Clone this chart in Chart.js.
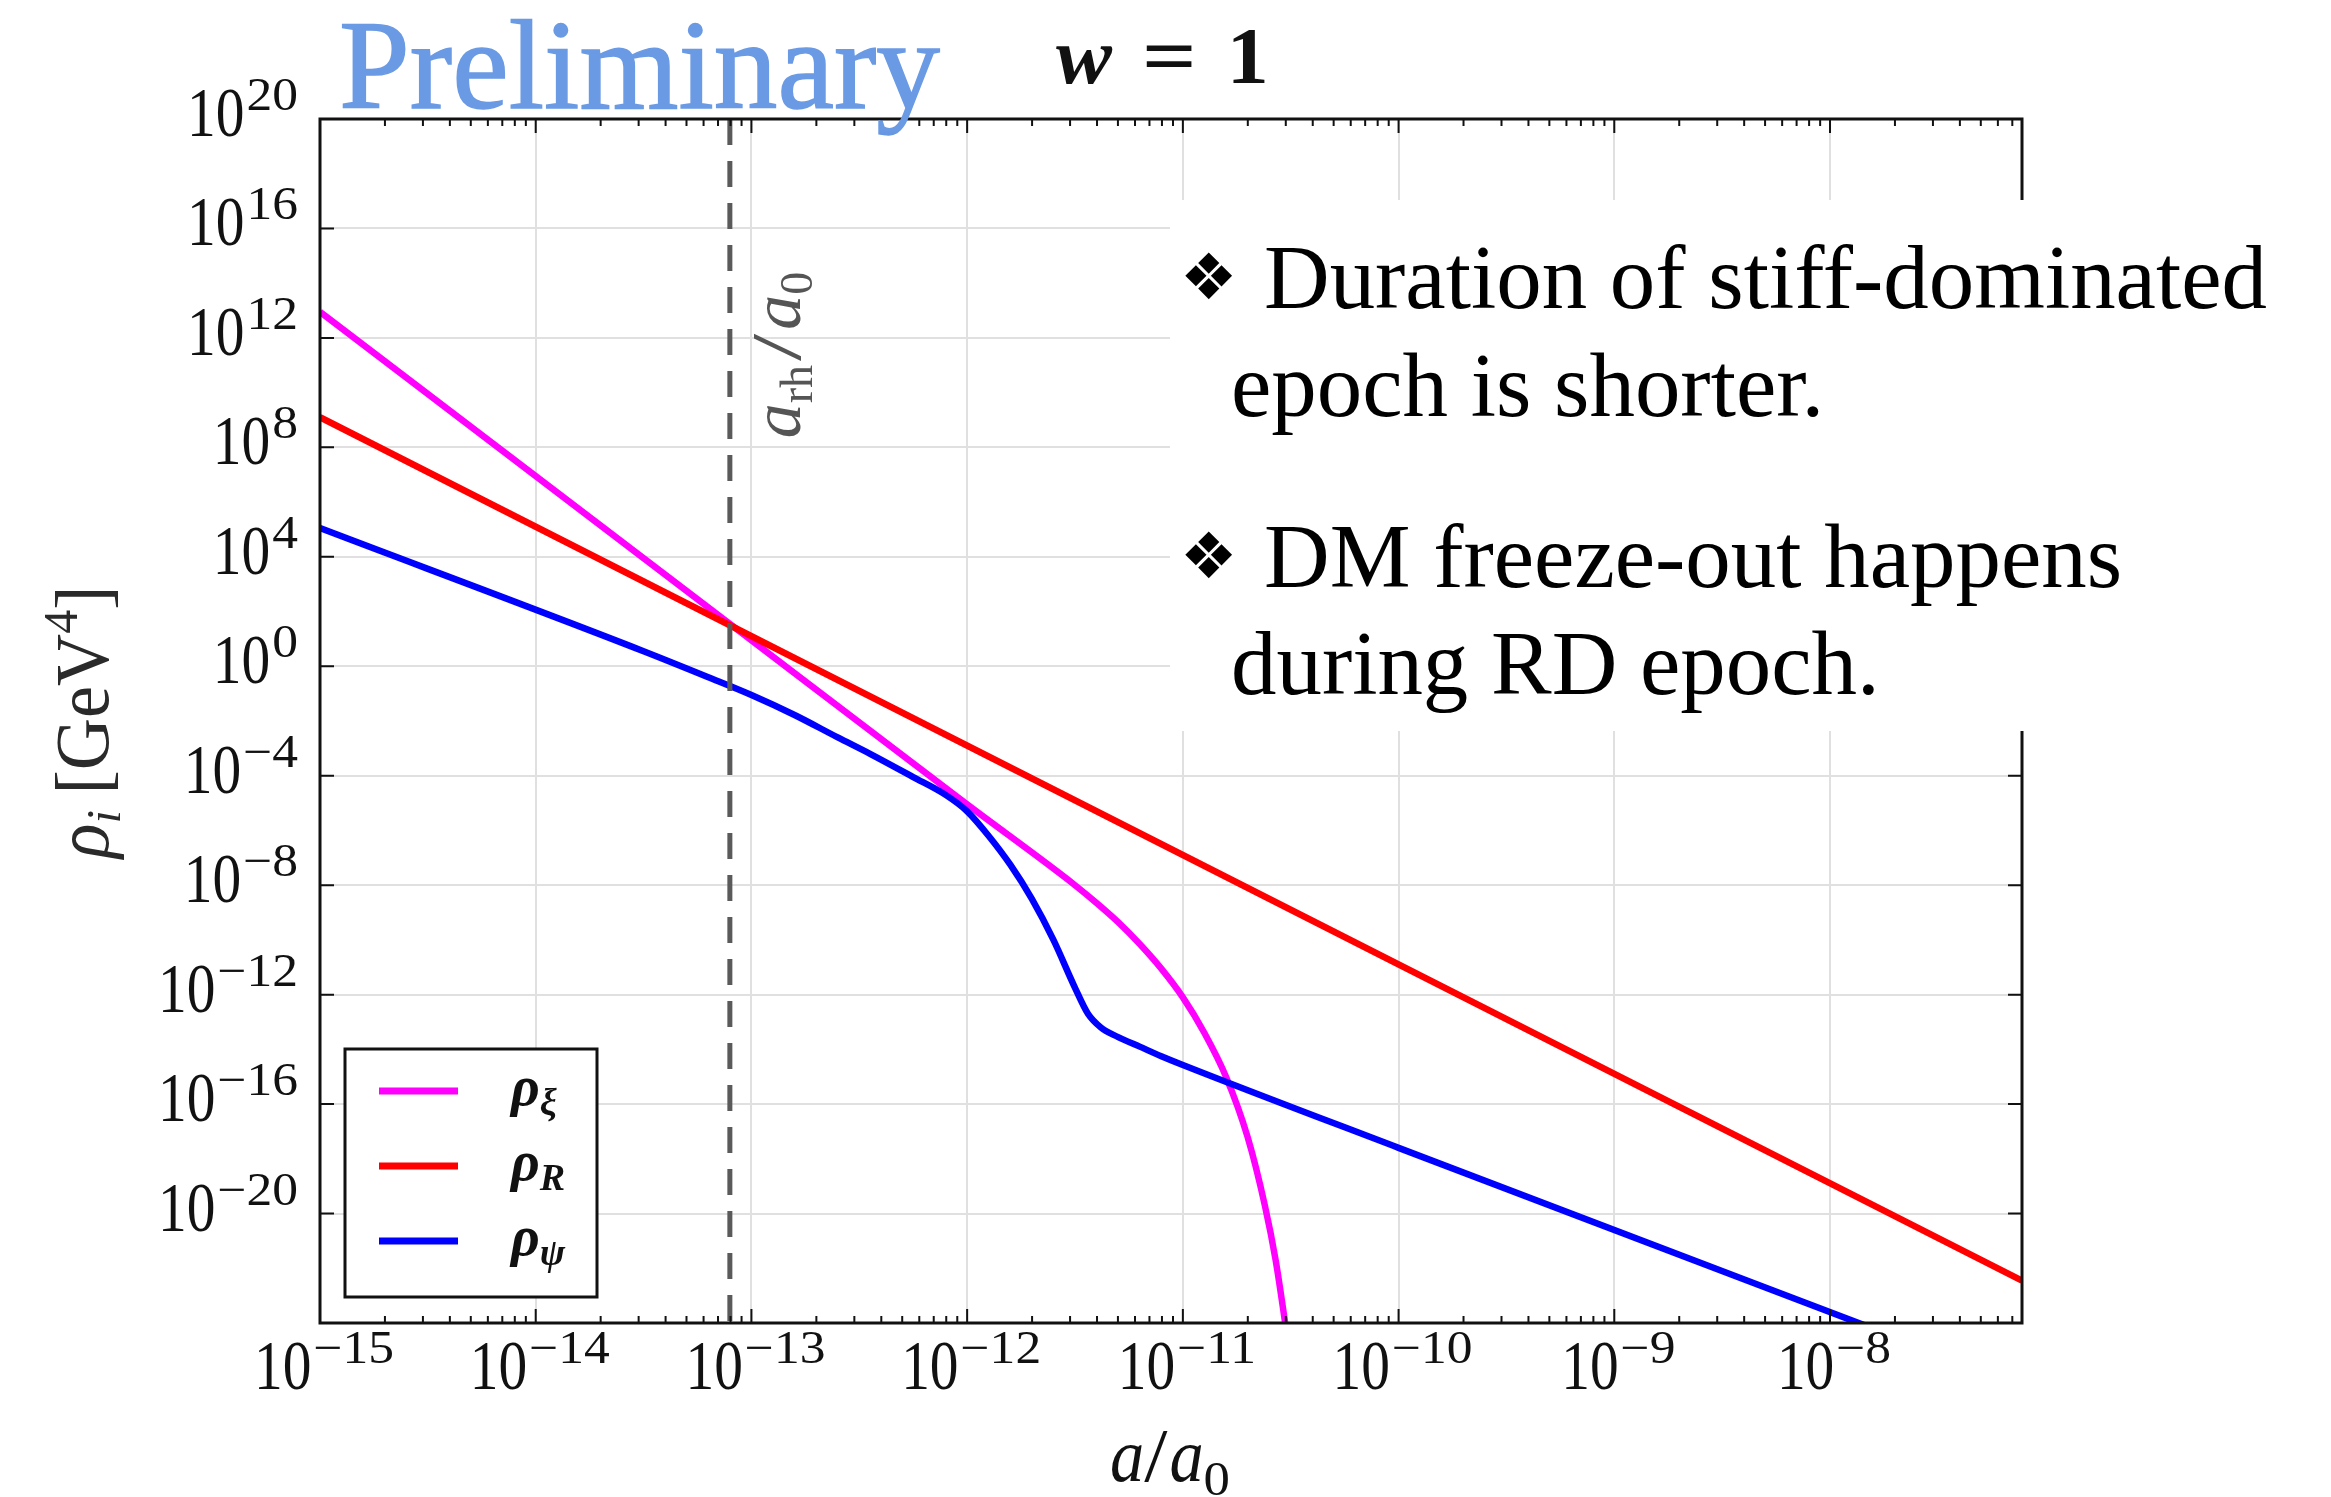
<!DOCTYPE html>
<html>
<head>
<meta charset="utf-8">
<script src="https://cdn.jsdelivr.net/npm/chart.js@4.4.1/dist/chart.umd.min.js"></script>
<style>
    html, body { margin: 0; padding: 0; background: #fff; }
    #wrap { width: 2331px; height: 1497px; }
</style>
</head>
<body>
<div id="wrap"><canvas id="chartRho" width="2331" height="1497"></canvas></div>
<script>
// axis ranges and tick positions, as log10 exponents
const xMinExp = -15, xMaxExp = -7.11;
const yMinExp = -24, yMaxExp = 20;
const xTickExp = [-15, -14, -13, -12, -11, -10, -9, -8];
const yTickExp = [20, 16, 12, 8, 4, 0, -4, -8, -12, -16, -20, -24];
const yLabelExp = [20, 16, 12, 8, 4, 0, -4, -8, -12, -16, -20];

// rho_xi (stiff fluid): log10(a/a0), log10(rho)
const xiLogA   = [-15, -13.1, -12, -11.5, -11.4, -11.3, -11.2, -11.1, -11.0, -10.9, -10.8, -10.7, -10.62, -10.57, -10.52];
const xiLogRho = [12.95, 1.55, -5.05, -8.0, -8.65, -9.35, -10.15, -11.05, -12.1, -13.4, -15.0, -17.2, -19.7, -21.7, -24.3];

// rho_R (radiation)
const radLogA   = [-15, -13.1, -7.11];
const radLogRho = [9.1, 1.5, -22.45];

// rho_psi (dark matter)
const psiLogA   = [-15, -13.5, -13.2, -13.0, -12.8, -12.6, -12.45, -12.25, -12.1, -12.0, -11.9, -11.8, -11.7, -11.6, -11.5, -11.44, -11.38, -11.3, -11.2, -11.1, -11.0, -10.0, -7.5];
const psiLogRho = [5.05, 0.55, -0.4, -1.05, -1.78, -2.6, -3.2, -4.05, -4.7, -5.3, -6.2, -7.25, -8.5, -10.0, -11.75, -12.7, -13.2, -13.55, -13.9, -14.25, -14.57, -17.6, -25.1];

// reheating scale factor
const aRhLog = -13.1;

const seriesSub = ['ξ', 'R', 'ψ'];
const seriesColors = ['#ff00ff', '#ff0000', '#0000ff'];

const notes = [
    { bullet: true, text: 'Duration of stiff-dominated' },
    { bullet: false, text: 'epoch is shorter.' },
    { bullet: true, text: 'DM freeze-out happens' },
    { bullet: false, text: 'during RD epoch.' }
];

const pts = (xs, ys) => xs.map((e, i) => ({ x: Math.pow(10, e), y: Math.pow(10, ys[i]) }));

const SERIF = '"Liberation Serif", "DejaVu Serif", serif';

function drawScaled(c, str, x, y, font, sx, color) {
    c.save();
    c.font = font;
    c.fillStyle = color || '#111';
    c.textAlign = 'left';
    c.textBaseline = 'alphabetic';
    c.translate(x, y);
    c.scale(sx, 1);
    c.fillText(str, 0, 0);
    c.restore();
}

function measure(c, str, font, sx) {
    c.save();
    c.font = font;
    const w = c.measureText(str).width * sx;
    c.restore();
    return w;
}

// runs: [{t, font, sx, dy, gap}]
function drawRuns(c, runs, x, y, align, color) {
    const widths = runs.map(r => measure(c, r.t, r.font, r.sx || 1) + (r.gap || 0));
    const total = widths.reduce((a, b) => a + b, 0);
    let cx = align === 'right' ? x - total : align === 'center' ? x - total / 2 : x;
    runs.forEach((r, i) => {
        drawScaled(c, r.t, cx, y + (r.dy || 0), r.font, r.sx || 1, color);
        cx += widths[i];
    });
    return total;
}

function powerRuns(exp) {
    const sup = exp < 0 ? '\u2212' + (-exp) : String(exp);
    return [
        { t: '10', font: '70px ' + SERIF, sx: 0.82, gap: 2 },
        { t: sup, font: '46px ' + SERIF, sx: 1.12, dy: -26 }
    ];
}

const frameAndText = {
    id: 'frameAndText',
    afterDraw(chart) {
        const c = chart.ctx;
        const { left, right, top, bottom } = chart.chartArea;
        const xs = chart.scales.x, ys = chart.scales.y;
        c.save();

        // inward tick marks
        c.strokeStyle = '#111';
        c.lineWidth = 2;
        c.beginPath();
        xTickExp.forEach(e => {
            const px = xs.getPixelForValue(Math.pow(10, e));
            c.moveTo(px, bottom); c.lineTo(px, bottom - 14);
            c.moveTo(px, top); c.lineTo(px, top + 14);
        });
        for (let e = xMinExp; e <= -8; e++) {
            for (let k = 2; k <= 9; k++) {
                const v = k * Math.pow(10, e);
                if (v >= Math.pow(10, xMaxExp)) continue;
                const px = xs.getPixelForValue(v);
                c.moveTo(px, bottom); c.lineTo(px, bottom - 7);
                c.moveTo(px, top); c.lineTo(px, top + 7);
            }
        }
        yTickExp.forEach(e => {
            const py = ys.getPixelForValue(Math.pow(10, e));
            c.moveTo(left, py); c.lineTo(left + 14, py);
            c.moveTo(right, py); c.lineTo(right - 14, py);
        });
        c.stroke();

        // frame
        c.lineWidth = 3;
        c.strokeRect(left, top, right - left, bottom - top);

        // tick labels
        yLabelExp.forEach(e => {
            const py = ys.getPixelForValue(Math.pow(10, e));
            drawRuns(c, powerRuns(e), left - 22, py + 17, 'right');
        });
        xTickExp.forEach(e => {
            const px = xs.getPixelForValue(Math.pow(10, e));
            drawRuns(c, powerRuns(e), px + 4, bottom + 66, 'center');
        });

        // axis titles
        drawRuns(c, [
            { t: 'a', font: 'italic 76px ' + SERIF, sx: 0.9 },
            { t: '/', font: '76px ' + SERIF, sx: 1.1, gap: 2 },
            { t: 'a', font: 'italic 76px ' + SERIF, sx: 0.9 },
            { t: '0', font: '48px ' + SERIF, sx: 1.1, dy: 14 }
        ], 1170, 1481, 'center');

        c.save();
        c.translate(108, 722);
        c.rotate(-Math.PI / 2);
        drawRuns(c, [
            { t: 'ρ', font: 'italic 76px ' + SERIF, sx: 0.95 },
            { t: 'i', font: 'italic 48px ' + SERIF, sx: 1.0, dy: 12, gap: 16 },
            { t: '[GeV', font: '76px ' + SERIF, sx: 0.95 },
            { t: '4', font: '48px ' + SERIF, sx: 1.0, dy: -31 },
            { t: ']', font: '76px ' + SERIF, sx: 0.95 }
        ], 0, 0, 'center', '#2a2a2a');
        c.restore();

        // label of the reheating line
        c.save();
        c.translate(xs.getPixelForValue(Math.pow(10, aRhLog)) + 70, 355);
        c.rotate(-Math.PI / 2);
        drawRuns(c, [
            { t: 'a', font: 'italic 70px ' + SERIF, sx: 1.0 },
            { t: 'rh', font: '46px ' + SERIF, sx: 1.0, dy: 12, gap: 4 },
            { t: '/', font: '70px ' + SERIF, sx: 1.4, gap: 4 },
            { t: 'a', font: 'italic 70px ' + SERIF, sx: 1.0 },
            { t: '0', font: '46px ' + SERIF, sx: 1.0, dy: 12 }
        ], 0, 0, 'center', '#555');
        c.restore();

        // legend
        const lx = 345, ly = 1049, lw = 252, lh = 248;
        c.fillStyle = '#fff';
        c.fillRect(lx, ly, lw, lh);
        c.lineWidth = 3;
        c.strokeStyle = '#111';
        c.strokeRect(lx, ly, lw, lh);
        seriesSub.forEach((s, i) => {
            const yy = 1091 + i * 75;
            c.strokeStyle = chart.data.datasets[i + 1].borderColor;
            c.lineWidth = 7;
            c.beginPath();
            c.moveTo(379, yy); c.lineTo(458, yy);
            c.stroke();
            drawRuns(c, [
                { t: 'ρ', font: 'bold italic 56px ' + SERIF, sx: 1.0 },
                { t: s, font: 'bold italic 38px ' + SERIF, sx: 1.0, dy: 10 }
            ], 511, yy + 14, 'left');
        });

        // title and watermark
        drawRuns(c, [
            { t: 'w', font: 'bold italic 80px ' + SERIF, sx: 1.05, gap: 30 },
            { t: '=', font: 'bold 80px ' + SERIF, sx: 1.2, gap: 30 },
            { t: '1', font: 'bold 80px ' + SERIF, sx: 1.05 }
        ], 1056, 83, 'left');

        const prelimFont = '128px ' + SERIF;
        const pw = measure(c, 'Preliminary', prelimFont, 1);
        const grad = c.createLinearGradient(0, 22, 0, 112);
        grad.addColorStop(0, '#6a9ae4');
        grad.addColorStop(1, '#3150b8');
        c.save();
        c.font = prelimFont;
        c.fillStyle = grad;
        c.strokeStyle = grad;
        c.lineWidth = 1.5;
        c.translate(339, 108);
        c.scale(601 / pw, 1);
        c.fillText('Preliminary', 0, 0);
        c.strokeText('Preliminary', 0, 0);
        c.restore();

        // note box over the upper right of the plot
        c.fillStyle = '#fff';
        c.fillRect(1170, 200, 2331 - 1170, 531);
        const noteFont = '90px ' + SERIF;
        const noteSx = 1003 / measure(c, notes[0].text, noteFont, 1);
        const baselines = [308, 416, 587, 694];
        notes.forEach((n, i) => {
            if (n.bullet) {
                c.save();
                c.font = '64px "DejaVu Sans"';
                c.fillStyle = '#000';
                c.textBaseline = 'middle';
                c.fillText('\u2756', 1180, baselines[i] - 26);
                c.restore();
            }
            drawScaled(c, n.text, n.bullet ? 1264 : 1231, baselines[i], noteFont, noteSx, '#000');
        });

        c.restore();
    }
};

const ctx = document.getElementById('chartRho');

new Chart(ctx, {
    type: 'line',
    data: {
        datasets: [
            {
                label: 'a_rh/a_0',
                data: [{ x: Math.pow(10, aRhLog), y: Math.pow(10, yMaxExp) }, { x: Math.pow(10, aRhLog), y: Math.pow(10, yMinExp) }],
                borderColor: '#5a5a5a',
                borderWidth: 5,
                borderDash: [26, 16],
                order: 0
            },
            {
                label: 'ρ_ξ',
                data: pts(xiLogA, xiLogRho),
                borderColor: seriesColors[0],
                borderWidth: 6.5,
                cubicInterpolationMode: 'monotone',
                order: 3
            },
            {
                label: 'ρ_R',
                data: pts(radLogA, radLogRho),
                borderColor: seriesColors[1],
                borderWidth: 6.5,
                tension: 0,
                order: 2
            },
            {
                label: 'ρ_ψ',
                data: pts(psiLogA, psiLogRho),
                borderColor: seriesColors[2],
                borderWidth: 6.5,
                cubicInterpolationMode: 'monotone',
                order: 1
            }
        ]
    },
    options: {
        responsive: false,
        devicePixelRatio: 1,
        animation: false,
        layout: { padding: { left: 320, right: 309, top: 119, bottom: 174 } },
        elements: { point: { radius: 0 }, line: { fill: false } },
        plugins: { legend: { display: false }, tooltip: { enabled: false } },
        scales: {
            x: {
                type: 'logarithmic',
                min: Math.pow(10, xMinExp),
                max: Math.pow(10, xMaxExp),
                ticks: { display: false },
                grid: { color: '#e0e0e0', lineWidth: 2, drawTicks: false },
                border: { display: false },
                afterBuildTicks: s => { s.ticks = xTickExp.map(e => ({ value: Math.pow(10, e) })); }
            },
            y: {
                type: 'logarithmic',
                min: Math.pow(10, yMinExp),
                max: Math.pow(10, yMaxExp),
                ticks: { display: false },
                grid: { color: '#e0e0e0', lineWidth: 2, drawTicks: false },
                border: { display: false },
                afterBuildTicks: s => { s.ticks = yTickExp.map(e => ({ value: Math.pow(10, e) })); }
            }
        }
    },
    plugins: [frameAndText]
});
</script>
</body>
</html>
